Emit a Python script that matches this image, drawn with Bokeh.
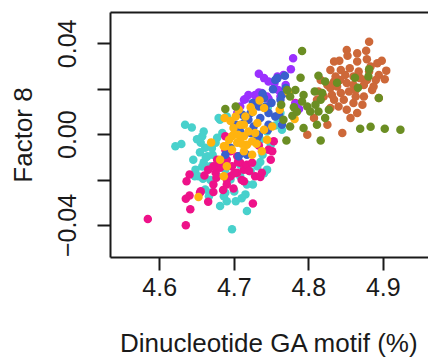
from bokeh.plotting import figure
from bokeh.models import FixedTicker, LinearAxis, CustomJSTickFormatter, Range1d
from bokeh.embed import file_html
from bokeh.resources import INLINE

# ---- data ----
turq_x = [4.634,4.643,4.629,4.621,4.657,4.655,4.661,4.654,4.664,4.659,
          4.668,4.648,4.652,4.658,4.647,4.677,4.661,4.668,4.686,4.681,
          4.666,4.684,4.681,4.675,4.659,4.688,4.690,4.702,4.715,
          4.717,4.717,4.697,4.744,4.679,4.677,4.762,4.758,4.764,4.744,
          4.735,4.731,4.722,4.708,4.695,4.671,4.679,4.688,4.738,4.749,4.708,
          4.650,4.662,4.670,4.657,4.645,4.668,4.700,4.710,4.725,4.735,
          4.700,4.690,4.745,4.755,4.740]
turq_y = [0.0044,0.0032,-0.0041,-0.0051,-0.0007,-0.0036,-0.0058,-0.0078,-0.0095,-0.0121,
          -0.0139,-0.0154,-0.0183,-0.0194,-0.0183,-0.0183,-0.0241,-0.0256,-0.0271,-0.0314,
          -0.0271,0.0007,0.0066,-0.0036,0.0014,-0.0256,-0.0293,-0.0293,-0.0263,
          -0.0219,-0.0336,-0.0417,-0.0154,0.0073,-0.0014,0.0095,0.0073,0.0022,0.0014,
          -0.0022,-0.0139,-0.0161,-0.0183,-0.0197,-0.0088,-0.0132,-0.0154,-0.0088,-0.0044,-0.0132,
          -0.0020,-0.0100,-0.0060,-0.0140,-0.0110,-0.0200,-0.0250,-0.0280,-0.0220,-0.0120,
          0.0040,0.0080,0.0120,0.0040,-0.0170]

pink_x = [4.584,4.635,4.641,4.635,4.640,4.654,4.636,4.640,4.665,4.672,
          4.685,4.699,4.725,4.677,4.681,4.675,4.690,4.697,4.704,4.708,
          4.713,4.717,4.713,4.728,4.735,4.724,4.749,4.751,4.753,4.782,
          4.688,4.695,4.704,4.695,4.672,4.733,4.746,4.737,4.690,4.672,
          4.676,4.655,4.681,4.665,4.688,
          4.700,4.710,4.720,4.690,4.705,4.660]
pink_y = [-0.0371,-0.0399,-0.0329,-0.0282,-0.0268,-0.0256,-0.0205,-0.0175,-0.0295,-0.0253,
          -0.0244,-0.0237,-0.0303,-0.0110,-0.0146,-0.0168,-0.0110,-0.0139,-0.0095,-0.0124,
          -0.0154,-0.0132,-0.0205,-0.0183,-0.0186,-0.0124,-0.0110,-0.0073,-0.0029,0.0139,
          -0.0007,-0.0073,-0.0168,-0.0183,-0.0139,-0.0048,-0.0066,-0.0168,-0.0197,-0.0219,
          -0.0190,-0.0249,-0.0124,-0.0154,-0.0066,
          -0.0170,-0.0200,-0.0160,-0.0220,-0.0120,-0.0180]

purple_x = [4.779,4.776,4.733,4.740,4.746,4.754,4.758,4.766,4.769,4.733,
            4.728,4.737,4.719,4.715,4.744,4.728,4.713,4.708,4.704,4.762,
            4.782,4.787,4.746,4.759]
purple_y = [0.0336,0.0288,0.0268,0.0249,0.0234,0.0227,0.0256,0.0263,0.0219,0.0186,
            0.0175,0.0183,0.0175,0.0157,0.0168,0.0146,0.0154,0.0124,0.0095,0.0168,
            0.0136,0.0113,0.0158,0.0197]

blue_x = [4.758,4.768,4.755,4.764,4.762,4.742,4.733,4.722,4.711,4.746,
          4.735,4.713,4.726,4.733,4.731,4.708,4.702,4.722,4.717,4.706,
          4.746,4.755,4.740,4.764,4.760,4.719,4.695,4.688,4.769,
          4.750,4.738,4.752,4.725,4.745]
blue_y = [0.0249,0.0259,0.0241,0.0175,0.0154,0.0124,0.0124,0.0095,0.0088,0.0095,
          0.0073,0.0051,0.0036,0.0000,-0.0014,0.0014,0.0044,0.0007,-0.0088,-0.0095,
          0.0044,0.0080,0.0161,0.0044,0.0088,0.0066,-0.0058,-0.0088,0.0206,
          0.0140,0.0180,0.0200,0.0140,0.0020]

orange_x = [4.773,4.781,4.761,4.751,4.734,4.740,4.722,4.706,4.687,4.702,
            4.699,4.713,4.708,4.719,4.708,4.697,4.693,4.686,4.669,4.688,
            4.697,4.704,4.717,4.724,4.728,4.744,4.740,4.731,4.737,4.724,
            4.713,4.681,4.690,4.686,4.652,4.699,4.713,
            4.715,4.705,4.725,4.695,4.710,4.730]
orange_y = [0.0186,0.0069,0.0110,0.0036,0.0150,0.0117,0.0121,0.0110,0.0073,0.0080,
            0.0029,0.0044,0.0044,0.0014,-0.0007,-0.0007,-0.0022,-0.0051,-0.0034,-0.0051,
            -0.0066,-0.0036,-0.0044,-0.0029,0.0007,-0.0022,0.0022,0.0051,-0.0073,-0.0088,
            -0.0073,-0.0110,-0.0139,-0.0183,-0.0275,0.0000,-0.0007,
            0.0080,0.0000,0.0100,0.0060,-0.0040,-0.0040]

choc_x = [4.881,4.851,4.865,4.877,4.841,4.852,4.865,4.878,4.898,4.892,
          4.834,4.829,4.843,4.855,4.867,4.881,4.904,4.894,4.902,4.890,
          4.878,4.869,4.860,4.849,4.842,4.834,4.825,4.816,4.829,4.838,
          4.851,4.860,4.874,4.885,4.854,4.843,4.831,4.820,4.811,4.834,
          4.847,4.863,4.874,4.894,4.860,4.872,4.840,4.829,4.851,4.865,
          4.856,4.825,4.845,4.798,4.807,4.813,4.836,4.863,4.883,4.887]
choc_y = [0.0409,0.0373,0.0358,0.0370,0.0326,0.0348,0.0322,0.0332,0.0325,0.0314,
          0.0322,0.0285,0.0285,0.0292,0.0278,0.0278,0.0282,0.0263,0.0244,0.0241,
          0.0241,0.0249,0.0256,0.0263,0.0241,0.0234,0.0219,0.0241,0.0205,0.0212,
          0.0227,0.0219,0.0219,0.0197,0.0190,0.0183,0.0175,0.0168,0.0154,0.0154,
          0.0154,0.0168,0.0168,0.0161,0.0139,0.0132,0.0124,0.0117,0.0110,0.0095,
          0.0073,0.0044,0.0007,0.0000,0.0073,0.0190,0.0256,0.0197,0.0300,0.0212]

green_x = [4.791,4.789,4.813,4.822,4.838,4.862,4.881,4.880,4.866,4.894,
           4.808,4.818,4.793,4.782,4.775,4.816,4.809,4.798,4.791,4.802,
           4.813,4.827,4.822,4.811,4.793,4.775,4.766,4.869,4.883,4.902,
           4.923,4.816,4.770,4.778,4.780,4.688,4.702,4.771,4.763,4.784]
green_y = [0.0368,0.0251,0.0259,0.0234,0.0229,0.0251,0.0288,0.0256,0.0207,0.0161,
           0.0190,0.0183,0.0175,0.0197,0.0168,0.0154,0.0132,0.0124,0.0146,0.0102,
           0.0102,0.0110,0.0073,0.0044,0.0029,0.0036,0.0066,0.0026,0.0035,0.0026,
           0.0022,-0.0026,-0.0026,0.0083,0.0121,0.0113,0.0124,0.0197,0.0132,0.0101]

x_ticks = [4.6, 4.7, 4.8, 4.9]
y_ticks = [-0.04, -0.02, 0.0, 0.02, 0.04]
x_label = "Dinucleotide GA motif (%)"
y_label = "Factor 8"

groups = [
    (turq_x, turq_y, "#48D1CC"),
    (pink_x, pink_y, "#EE1289"),
    (purple_x, purple_y, "#9B30FF"),
    (blue_x, blue_y, "#3A5FCD"),
    (orange_x, orange_y, "#FFB30F"),
    (choc_x, choc_y, "#CD6839"),
    (green_x, green_y, "#6B8E23"),
]

FONT = "Liberation Sans"
INK = "#1a1a1a"

p = figure(width=428, height=360, output_backend="svg", toolbar_location=None,
           x_range=Range1d(4.5339, 4.9607), y_range=Range1d(-0.0541, 0.0538),
           min_border_left=110, min_border_right=0, min_border_top=12,
           min_border_bottom=102)
p.outline_line_color = None
p.grid.visible = False
p.background_fill_color = "white"
p.border_fill_color = "white"

for xs, ys, c in groups:
    p.scatter(xs, ys, size=8.5, fill_color=c, line_color=None)

for ax in (p.xaxis[0], p.yaxis[0]):
    ax.axis_line_width = 2
    ax.axis_line_color = INK
    ax.major_tick_line_width = 2
    ax.major_tick_line_color = INK
    ax.major_tick_out = 13
    ax.major_tick_in = 0
    ax.minor_tick_line_color = None
    ax.major_label_text_font = FONT
    ax.major_label_text_font_size = "25px"
    ax.major_label_text_color = INK
    ax.axis_label_text_font = FONT
    ax.axis_label_text_font_size = "26px"
    ax.axis_label_text_font_style = "normal"
    ax.axis_label_text_color = INK

xa = p.xaxis[0]
xa.ticker = FixedTicker(ticks=x_ticks)
xa.axis_label = x_label
xa.major_label_standoff = 7
xa.axis_label_standoff = 29

ya = p.yaxis[0]
ya.ticker = FixedTicker(ticks=y_ticks)
ya.formatter = CustomJSTickFormatter(code="""
if (Math.abs(tick) < 1e-9) return '0.00';
if (Math.abs(Math.abs(tick) - 0.04) < 1e-9) return tick < 0 ? '\u22120.04' : '0.04';
return '';
""")
ya.major_label_orientation = "vertical"
ya.axis_label = y_label
ya.major_label_standoff = 21
ya.axis_label_standoff = 18

top = LinearAxis(ticker=FixedTicker(ticks=[]), axis_line_width=2, axis_line_color=INK,
                 major_tick_line_color=None, minor_tick_line_color=None,
                 major_label_text_font_size="0px")
p.add_layout(top, "above")

open("out.html", "w").write(file_html(p, INLINE))
